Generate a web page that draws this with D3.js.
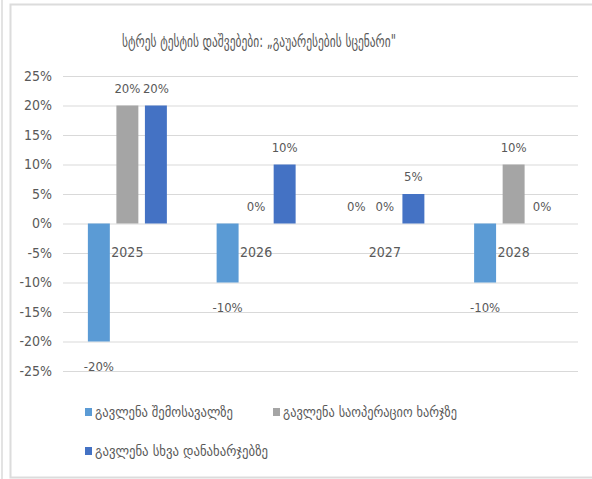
<!DOCTYPE html>
<html>
<head>
<meta charset="utf-8">
<script src="https://cdn.jsdelivr.net/npm/d3@7"></script>
<style>
  body { margin: 0; background: #fff; }
  svg text { font-family: "DejaVu Sans Condensed", "Liberation Sans Narrow", "Roboto", "DejaVu Sans", sans-serif; fill: #595959; }
</style>
</head>
<body>
<svg id="chart" width="592" height="479"></svg>
<script>
// chart data
const title = "სტრეს ტესტის დაშვებები: „გაუარესების სცენარი\"";
const years = ["2025", "2026", "2027", "2028"];
const seriesNames = ["გავლენა შემოსავალზე", "გავლენა საოპერაციო ხარჯზე", "გავლენა სხვა დანახარჯებზე"];
const incomeImpact = [-0.20, -0.10, 0, -0.10];
const opexImpact = [0.20, 0, 0, 0.10];
const otherImpact = [0.20, 0.10, 0.05, 0];
const yTicks = [-0.25, -0.20, -0.15, -0.10, -0.05, 0, 0.05, 0.10, 0.15, 0.20, 0.25];
const colors = ["#5B9BD5", "#A5A5A5", "#4472C4"];

const seriesValues = [incomeImpact, opexImpact, otherImpact];

// excel style percent, plain hyphen for negatives
const pct = v => `${Math.round(v * 100)}%`;

const svg = d3.select("#chart");

// outer frame
svg.append("line")
    .attr("x1", 2).attr("x2", 2).attr("y1", 0).attr("y2", 479)
    .attr("stroke", "#e3e3e3").attr("stroke-width", 2);
svg.append("rect")
    .attr("x", 10.5).attr("y", 4.5).attr("width", 600).attr("height", 473)
    .attr("fill", "none").attr("stroke", "#dcdcdc").attr("stroke-width", 2);

// title
svg.append("text")
    .attr("x", 259).attr("y", 47)
    .attr("text-anchor", "middle")
    .attr("textLength", 274)
    .attr("lengthAdjust", "spacingAndGlyphs")
    .style("font-size", "17px")
    .text(title);

const plotLeft = 63, plotRight = 578;

const yScale = d3.scaleLinear()
    .domain([-0.25, 0.25])
    .range([371, 76]);

const xScale = d3.scaleBand()
    .domain(years)
    .range([plotLeft, plotRight]);

const groupWidth = 79;
const x1 = d3.scaleBand()
    .domain(d3.range(seriesNames.length))
    .range([0, groupWidth])
    .paddingInner(0.23);

const groupOffset = (xScale.bandwidth() - groupWidth) / 2;

// gridlines + y labels
const yAxis = d3.axisLeft(yScale)
    .tickValues(yTicks)
    .tickSize(-(plotRight - plotLeft))
    .tickPadding(11)
    .tickFormat(pct);

const yG = svg.append("g")
    .attr("transform", `translate(${plotLeft},0)`)
    .call(yAxis);
yG.select(".domain").remove();
yG.selectAll(".tick line").attr("stroke", "#d9d9d9").attr("stroke-width", 1.2);
yG.selectAll(".tick text").style("font-size", "14px").attr("fill", "#595959");

// bars
const rows = years.map((yr, i) => ({
    year: yr,
    values: seriesValues.map((s, k) => ({ k, v: s[i] }))
}));

const groups = svg.append("g")
    .selectAll("g")
    .data(rows)
    .join("g")
        .attr("transform", d => `translate(${xScale(d.year) + groupOffset},0)`);

groups.selectAll("rect")
    .data(d => d.values)
    .join("rect")
        .attr("x", d => x1(d.k))
        .attr("y", d => yScale(Math.max(0, d.v)))
        .attr("width", x1.bandwidth())
        .attr("height", d => Math.abs(yScale(d.v) - yScale(0)))
        .attr("fill", d => colors[d.k]);

// data labels
groups.selectAll("text.lbl")
    .data(d => d.values)
    .join("text")
        .attr("class", "lbl")
        .attr("x", d => x1(d.k) + x1.bandwidth() / 2)
        .attr("y", d => d.v < 0 ? yScale(d.v) + 29 : yScale(d.v) - 13)
        .attr("text-anchor", "middle")
        .style("font-size", "13px")
        .text(d => pct(d.v));

// category labels sit just under the zero line
svg.append("g")
    .selectAll("text")
    .data(years)
    .join("text")
        .attr("x", d => xScale(d) + xScale.bandwidth() / 2)
        .attr("y", yScale(0) + 33)
        .attr("text-anchor", "middle")
        .style("font-size", "14px")
        .text(d => d);

// legend
const legendItems = [
    { x: 85, y: 413, w: 138 },
    { x: 273, y: 413, w: 174 },
    { x: 85, y: 452, w: 173 }
];
const legend = svg.append("g")
    .selectAll("g")
    .data(seriesNames)
    .join("g")
        .attr("transform", (d, i) => `translate(${legendItems[i].x},${legendItems[i].y})`);
legend.append("rect")
    .attr("x", 0).attr("y", -5)
    .attr("width", 7).attr("height", 8)
    .attr("fill", (d, i) => colors[i]);
legend.append("text")
    .attr("x", 10).attr("y", 4)
    .attr("textLength", (d, i) => legendItems[i].w)
    .attr("lengthAdjust", "spacingAndGlyphs")
    .style("font-size", "14px")
    .text(d => d);
</script>
</body>
</html>
